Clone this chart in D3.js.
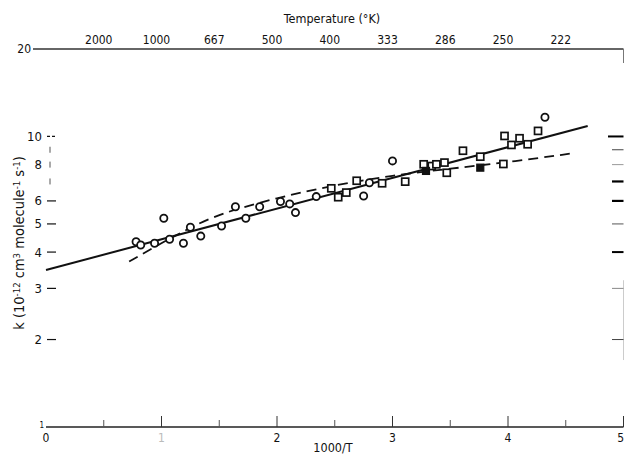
<!DOCTYPE html>
<html>
<head>
<meta charset="utf-8">
<script src="https://cdn.jsdelivr.net/npm/d3@7"></script>
<style>
  body { margin: 0; background: #fff; }
  svg { display: block; font-family: "Liberation Sans Narrow", "DejaVu Sans Condensed", "Liberation Sans", sans-serif; }
</style>
</head>
<body>
<div class="canvas"></div>
<script>
// ---- data ----
// open circles
const circleX = [0.78, 0.82, 0.94, 1.02, 1.07, 1.19, 1.25, 1.34, 1.52, 1.64, 1.73, 1.85, 2.03, 2.11, 2.16,
  2.34, 2.75, 2.80, 3.00, 4.32];
const circleK = [4.34, 4.23, 4.29, 5.23, 4.43, 4.29, 4.87, 4.54, 4.92, 5.73, 5.23, 5.73, 5.97, 5.86, 5.47,
  6.21, 6.24, 6.93, 8.24, 11.64];
// open squares
const squareX = [2.47, 2.53, 2.60, 2.69, 2.91, 3.11, 3.27, 3.34, 3.38, 3.45, 3.47, 3.61, 3.76, 3.96, 3.97,
  4.03, 4.10, 4.17, 4.26];
const squareK = [6.63, 6.18, 6.41, 7.04, 6.90, 6.99, 8.02, 7.91, 8.02, 8.13, 7.50, 8.93, 8.52, 8.04, 10.04,
  9.35, 9.86, 9.40, 10.45];
// filled squares
const filledX = [3.29, 3.76];
const filledK = [7.61, 7.81];

// solid fit line and dashed curve
const fitX = [0, 4.69];
const fitK = [3.47, 10.87];
const dashX = [0.72, 1.0, 1.25, 1.5, 2.0, 2.5, 3.0, 3.5, 4.0, 4.56];
const dashK = [3.71, 4.3, 4.85, 5.42, 6.15, 6.8, 7.35, 7.75, 8.15, 8.75];

// axes
const bottomMajor = [1, 2, 3, 4, 5];
const bottomMinor = [0.5, 1.5, 2.5, 3.5, 4.5];
const bottomLabels = ["2", "3", "4"];
const topPos = [0.5, 1, 1.5, 2, 2.5, 3, 3.5, 4, 4.5];
const topLabels = ["2000", "1000", "667", "500", "400", "333", "286", "250", "222"];
const leftLabelVals = [2, 3, 4, 5, 6, 8, 10];
const leftTickVals = [2, 3, 4, 5, 6, 10];
const leftMinorVals = [7, 8, 9];
const rightTickVals = [2, 3, 4, 5, 6, 7, 8, 9, 10];
const rightTickWidth = [1, 1, 2, 1, 2.2, 2.2, 1, 1, 2];
const rightTickColor = ["#444", "#888", "#000", "#555", "#000", "#000", "#999", "#444", "#000"];

const W = 625, H = 455;

const svg = d3.select('.canvas')
  .append('svg')
    .attr('width', W)
    .attr('height', H);

const x = d3.scaleLinear().domain([0, 5]).range([46, 623.5]);
const y = d3.scaleLog().domain([1, 20]).range([427, 49]);

const ink = "#111";

// top axis
svg.append('line')
  .attr('x1', 33).attr('x2', x(5))
  .attr('y1', y(20)).attr('y2', y(20))
  .attr('stroke', "#333").attr('stroke-width', 1.3);
svg.append('line')
  .attr('x1', x(5)).attr('x2', x(5))
  .attr('y1', y(20)).attr('y2', y(20) + 14)
  .attr('stroke', "#777").attr('stroke-width', 1);
svg.append('text')
  .attr('x', 31).attr('y', y(20) + 4)
  .attr('text-anchor', 'end')
  .attr('font-size', 12).attr('fill', ink)
  .text("20");
svg.selectAll('.toplab')
  .data(topPos)
  .enter().append('text')
    .attr('class', 'toplab')
    .attr('x', d => x(d) - 5)
    .attr('y', y(20) - 5)
    .attr('text-anchor', 'middle')
    .attr('font-size', 12).attr('fill', ink)
    .text((d, i) => topLabels[i]);
svg.append('text')
  .attr('x', 332).attr('y', 23)
  .attr('text-anchor', 'middle')
  .attr('font-size', 12.5).attr('fill', ink)
  .text("Temperature (°K)");

// bottom axis
svg.append('line')
  .attr('x1', x(0)).attr('x2', x(5))
  .attr('y1', y(1)).attr('y2', y(1))
  .attr('stroke', "#222").attr('stroke-width', 1.3);
svg.selectAll('.bmaj')
  .data(bottomMajor)
  .enter().append('line')
    .attr('x1', d => x(d)).attr('x2', d => x(d))
    .attr('y1', y(1)).attr('y2', y(1) - 11)
    .attr('stroke', "#333").attr('stroke-width', 1);
svg.selectAll('.bmin')
  .data(bottomMinor)
  .enter().append('line')
    .attr('x1', d => x(d)).attr('x2', d => x(d))
    .attr('y1', y(1)).attr('y2', y(1) - 7)
    .attr('stroke', "#555").attr('stroke-width', 1);
svg.selectAll('.blab')
  .data(bottomLabels)
  .enter().append('text')
    .attr('x', d => x(+d))
    .attr('y', y(1) + 15)
    .attr('text-anchor', 'middle')
    .attr('font-size', 12).attr('fill', ink)
    .text(d => d);
svg.append('text')
  .attr('x', 624).attr('y', y(1) + 15)
  .attr('text-anchor', 'end')
  .attr('font-size', 12).attr('fill', ink)
  .text("5");
svg.append('text')
  .attr('x', x(0)).attr('y', y(1) + 15)
  .attr('text-anchor', 'middle')
  .attr('font-size', 12).attr('fill', ink)
  .text("0");
svg.append('text')
  .attr('x', x(0) - 2).attr('y', y(1) + 1)
  .attr('text-anchor', 'end')
  .attr('font-size', 8).attr('fill', ink)
  .text("1");
svg.append('text')
  .attr('x', x(1)).attr('y', y(1) + 15)
  .attr('text-anchor', 'middle')
  .attr('font-size', 12).attr('fill', "#bbb")
  .text("1");
svg.append('text')
  .attr('x', 333).attr('y', 452)
  .attr('text-anchor', 'middle')
  .attr('font-size', 12.5).attr('fill', ink)
  .text("1000/T");

// left ticks and labels
svg.selectAll('.ltick')
  .data(leftTickVals)
  .enter().append('line')
    .attr('x1', 47).attr('x2', 56)
    .attr('y1', d => y(d)).attr('y2', d => y(d))
    .attr('stroke', ink).attr('stroke-width', 1.2)
    .attr('stroke-dasharray', d => d === 10 ? "3,2" : null);
svg.selectAll('.lminor')
  .data(leftMinorVals)
  .enter().append('line')
    .attr('x1', 50).attr('x2', 50)
    .attr('y1', d => y(d) - 3).attr('y2', d => y(d) + 3)
    .attr('stroke', "#555").attr('stroke-width', 1);
svg.selectAll('.llab')
  .data(leftLabelVals)
  .enter().append('text')
    .attr('x', 42)
    .attr('y', d => y(d) + 4.5)
    .attr('text-anchor', 'end')
    .attr('font-size', 13).attr('fill', ink)
    .text(d => d);

// y axis title
const yt = svg.append('text')
  .attr('transform', 'translate(24,243) rotate(-90)')
  .attr('text-anchor', 'middle')
  .attr('font-size', 14.5).attr('fill', ink);
yt.append('tspan').text("k (10");
yt.append('tspan').attr('baseline-shift', '45%').attr('font-size', 9.5).text("-12");
yt.append('tspan').text(" cm");
yt.append('tspan').attr('baseline-shift', '45%').attr('font-size', 9.5).text("3");
yt.append('tspan').text(" molecule");
yt.append('tspan').attr('baseline-shift', '45%').attr('font-size', 9.5).text("-1");
yt.append('tspan').text(" s");
yt.append('tspan').attr('baseline-shift', '45%').attr('font-size', 9.5).text("-1");
yt.append('tspan').text(")");

// right axis (faded in the scan)
svg.append('line')
  .attr('x1', x(5)).attr('x2', x(5))
  .attr('y1', y(3.2)).attr('y2', y(1.7))
  .attr('stroke', "#ccc").attr('stroke-width', 1);
svg.selectAll('.rtick')
  .data(rightTickVals)
  .enter().append('line')
    .attr('x1', (d, i) => d === 10 ? 608 : 612).attr('x2', x(5))
    .attr('y1', d => y(d)).attr('y2', d => y(d))
    .attr('stroke', (d, i) => rightTickColor[i])
    .attr('stroke-width', (d, i) => rightTickWidth[i]);

// fit line
const fitLine = d3.line().x(d => x(d[0])).y(d => y(d[1]));
svg.append('path')
  .attr('d', fitLine(d3.zip(fitX, fitK)))
  .attr('fill', 'none').attr('stroke', ink).attr('stroke-width', 2);

// dashed curve
const dashLine = d3.line().x(d => x(d[0])).y(d => y(d[1])).curve(d3.curveBasis);
svg.append('path')
  .attr('d', dashLine(d3.zip(dashX, dashK)))
  .attr('fill', 'none').attr('stroke', ink).attr('stroke-width', 1.8)
  .attr('stroke-dasharray', "10,6");

// points
svg.selectAll('.circ')
  .data(d3.zip(circleX, circleK))
  .enter().append('circle')
    .attr('cx', d => x(d[0])).attr('cy', d => y(d[1]))
    .attr('r', 3.6)
    .attr('fill', '#fff').attr('stroke', ink).attr('stroke-width', 1.8);
svg.selectAll('.sq')
  .data(d3.zip(squareX, squareK))
  .enter().append('rect')
    .attr('x', d => x(d[0]) - 3.5).attr('y', d => y(d[1]) - 3.5)
    .attr('width', 7).attr('height', 7)
    .attr('fill', '#fff').attr('stroke', ink).attr('stroke-width', 1.7);
svg.selectAll('.fsq')
  .data(d3.zip(filledX, filledK))
  .enter().append('rect')
    .attr('x', d => x(d[0]) - 3.5).attr('y', d => y(d[1]) - 3.5)
    .attr('width', 7).attr('height', 7)
    .attr('fill', ink).attr('stroke', ink).attr('stroke-width', 1.2);
</script>
</body>
</html>
